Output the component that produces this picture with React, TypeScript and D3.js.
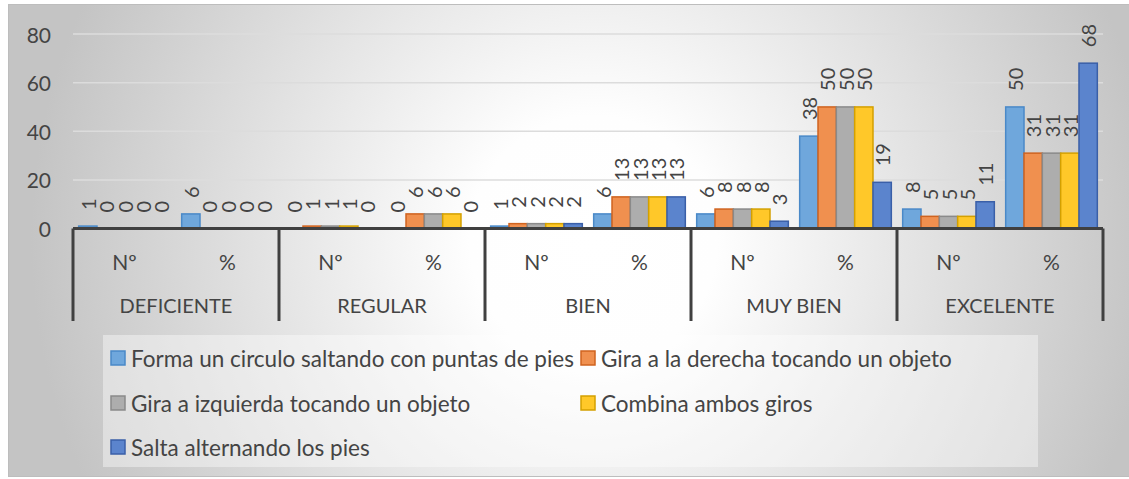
import { scaleBand, scaleLinear } from "d3";

const categories = ["DEFICIENTE", "REGULAR", "BIEN", "MUY BIEN", "EXCELENTE"];
const subLabels = ["Nº", "%"];
const seriesNames = [
  "Forma un circulo saltando con puntas de pies",
  "Gira a la derecha tocando un objeto",
  "Gira a izquierda tocando un objeto",
  "Combina ambos giros",
  "Salta alternando los pies"
];
// values per (category, Nº / %) pair
const formaCirculo = [1, 6, 0, 0, 1, 6, 6, 38, 8, 50];
const giraDerecha = [0, 0, 1, 6, 2, 13, 8, 50, 5, 31];
const giraIzquierda = [0, 0, 1, 6, 2, 13, 8, 50, 5, 31];
const combinaGiros = [0, 0, 1, 6, 2, 13, 8, 50, 5, 31];
const saltaAlternando = [0, 0, 0, 0, 2, 13, 3, 19, 11, 68];
const yTicks = [0, 20, 40, 60, 80];

const seriesValues = [formaCirculo, giraDerecha, giraIzquierda, combinaGiros, saltaAlternando];
const fills = ["#6fa7dc", "#f0904f", "#adadad", "#ffc829", "#5b84cd"];
const strokes = ["#4a89c8", "#cf631f", "#8a8a8a", "#d4a000", "#3a5fa8"];

const width = 1129;
const height = 479;
const plotLeft = 73;
const plotRight = 1103;
const plotTop = 34;
const plotBottom = 228.5;
const font = "Lato, 'Open Sans', sans-serif";
const textColor = "#444444";

function App() {
  const subKeys = categories.flatMap((c) => subLabels.map((s) => `${c}|${s}`));
  const x = scaleBand<string>().domain(subKeys).range([plotLeft, plotRight]).padding(0);
  const xCat = scaleBand<string>().domain(categories).range([plotLeft, plotRight]).padding(0);
  const xInner = scaleBand<number>()
    .domain(seriesNames.map((_, i) => i))
    .range([0, x.bandwidth()])
    .paddingInner(0)
    .paddingOuter(0.31);
  const y = scaleLinear().domain([0, 80]).range([plotBottom, plotTop]);

  const legendItems = [
    { i: 0, x: 111, y: 358 },
    { i: 1, x: 581, y: 358 },
    { i: 2, x: 111, y: 403 },
    { i: 3, x: 581, y: 403 },
    { i: 4, x: 111, y: 447 }
  ];

  return (
    <div style={{ position: "fixed", left: 0, top: 0, width, height, background: "#ffffff" }}>
      <svg width={width} height={height} style={{ display: "block" }}>
        <defs>
          <radialGradient
            id="bg"
            cx="0.52"
            cy="0.5"
            r="0.5"
            gradientTransform="translate(0.52,0.5) scale(1,2.4) translate(-0.52,-0.5)"
          >
            <stop offset="0" stopColor="#ffffff" />
            <stop offset="0.22" stopColor="#fefefe" />
            <stop offset="1" stopColor="#c4c4c4" />
          </radialGradient>
        </defs>
        <rect x={8.5} y={4.5} width={1125} height={472} fill="url(#bg)" stroke="#bdbdbd" strokeWidth={1} />

        {yTicks.map((t) => (
          <g key={t}>
            {t > 0 ? (
              <line x1={plotLeft} x2={plotRight} y1={y(t)} y2={y(t)} stroke="#dcdcdc" strokeWidth={1.5} />
            ) : null}
            <text
              x={51}
              y={y(t)}
              textAnchor="end"
              dominantBaseline="central"
              fontFamily={font}
              fontSize={21}
              fill={textColor}
            >
              {t}
            </text>
          </g>
        ))}

        {subKeys.map((key, k) =>
          seriesValues.map((vals, i) => {
            const v = vals[k];
            if (v === 0) {
              return null;
            }
            const bx = (x(key) ?? 0) + (xInner(i) ?? 0);
            return (
              <rect
                key={`${key}-${i}`}
                x={bx}
                y={y(v)}
                width={xInner.bandwidth()}
                height={plotBottom - y(v)}
                fill={fills[i]}
                stroke={strokes[i]}
                strokeWidth={1.5}
              />
            );
          })
        )}

        {subKeys.map((key, k) =>
          seriesValues.map((vals, i) => {
            const v = vals[k];
            const cx = (x(key) ?? 0) + (xInner(i) ?? 0) + xInner.bandwidth() / 2;
            const ty = y(v) - 16;
            return (
              <text
                key={`lbl-${key}-${i}`}
                transform={`translate(${cx},${ty}) rotate(-90)`}
                textAnchor="start"
                dominantBaseline="central"
                fontFamily={font}
                fontSize={20}
                fill={textColor}
              >
                {v}
              </text>
            );
          })
        )}

        <line x1={plotLeft} x2={plotRight} y1={plotBottom} y2={plotBottom} stroke="#404040" strokeWidth={3} />
        {categories.concat([""]).map((c, i) => {
          const vx = i < categories.length ? xCat(c) ?? 0 : plotRight;
          return (
            <line key={`div-${i}`} x1={vx} x2={vx} y1={plotBottom} y2={321} stroke="#404040" strokeWidth={3} />
          );
        })}
        {subKeys.map((key) => (
          <text
            key={`sub-${key}`}
            x={(x(key) ?? 0) + x.bandwidth() / 2}
            y={261}
            textAnchor="middle"
            dominantBaseline="central"
            fontFamily={font}
            fontSize={21}
            fill={textColor}
          >
            {key.split("|")[1]}
          </text>
        ))}
        {categories.map((c) => (
          <text
            key={`cat-${c}`}
            x={(xCat(c) ?? 0) + xCat.bandwidth() / 2}
            y={305}
            textAnchor="middle"
            dominantBaseline="central"
            fontFamily={font}
            fontSize={20}
            fill={textColor}
          >
            {c}
          </text>
        ))}

        <rect x={103} y={335} width={935} height={132} fill="#ffffff" fillOpacity={0.4} />
        {legendItems.map((item) => (
          <g key={`leg-${item.i}`}>
            <rect
              x={item.x}
              y={item.y - 7}
              width={14}
              height={14}
              fill={fills[item.i]}
              stroke={strokes[item.i]}
              strokeWidth={1.5}
            />
            <text
              x={item.x + 20}
              y={item.y}
              dominantBaseline="central"
              fontFamily={font}
              fontSize={22.5}
              fill={textColor}
            >
              {seriesNames[item.i]}
            </text>
          </g>
        ))}
      </svg>
    </div>
  );
}

export default App;
